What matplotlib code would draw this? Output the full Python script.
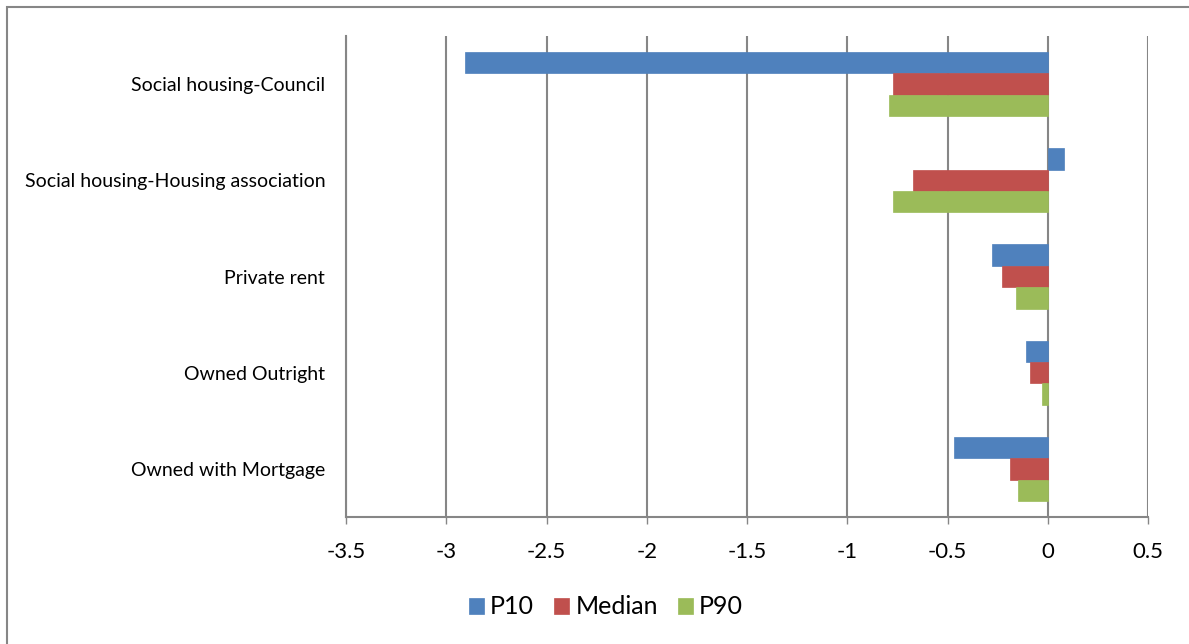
import matplotlib
matplotlib.use("Agg")
import matplotlib.pyplot as plt
import numpy as np
from matplotlib.patches import Rectangle

categories = ["Social housing-Council", "Social housing-Housing association",
              "Private rent", "Owned Outright", "Owned with Mortgage"]
series_names = ["P10", "Median", "P90"]
p10 = [-2.905, 0.082, -0.277, -0.107, -0.468]
median = [-0.773, -0.670, -0.227, -0.087, -0.187]
p90 = [-0.793, -0.773, -0.157, -0.027, -0.147]
xticks = [-3.5, -3, -2.5, -2, -1.5, -1, -0.5, 0, 0.5]
xtick_labels = ["-3.5", "-3", "-2.5", "-2", "-1.5", "-1", "-0.5", "0", "0.5"]
colors = ["#4F81BD", "#C0504D", "#9BBB59"]

plt.rcParams['font.family'] = ['Lato', 'DejaVu Sans']

fig = plt.figure(figsize=(11.89, 6.44), dpi=100)
ax = fig.add_axes([346/1189, 1-517/644, (1148-346)/1189, (517-36)/644])

n = len(categories)
y = np.arange(n)
h = 1/4.5
for i, (vals, name) in enumerate(zip([p10, median, p90], series_names)):
    ax.barh(y + (i - 1) * h, vals, height=h, color=colors[i], label=name,
            edgecolor=colors[i], linewidth=0.5, zorder=3)

ax.set_ylim(n - 0.5, -0.5)
ax.set_xlim(-3.5, 0.5)
ax.set_xticks(xticks)
ax.set_xticklabels(xtick_labels, fontsize=16)
ax.set_yticks(y)
ax.set_yticklabels(categories, fontsize=14)
ax.tick_params(axis='y', length=0, pad=15)
ax.tick_params(axis='x', length=5, color="#868686", pad=13, width=1)
ax.xaxis.grid(True, color="#868686", linewidth=1.5, zorder=0)
ax.set_axisbelow(True)
for s in ["top", "right"]:
    ax.spines[s].set_visible(False)
ax.spines["left"].set_color("#868686")
ax.spines["bottom"].set_color("#868686")
ax.spines["left"].set_linewidth(1.5)
ax.spines["bottom"].set_linewidth(1.5)

leg = fig.legend(loc="center", bbox_to_anchor=(606/1189, 1-607/644), ncol=3,
                 frameon=False, fontsize=18, handlelength=0.6, handleheight=0.6,
                 handletextpad=0.25, columnspacing=0.8)

fig.patches.append(Rectangle((7/1189, -0.1), 1.2, 1-7/644+0.1, transform=fig.transFigure,
                             fill=False, edgecolor="#868686", linewidth=1.5))

fig.savefig("out.png", dpi=100)
